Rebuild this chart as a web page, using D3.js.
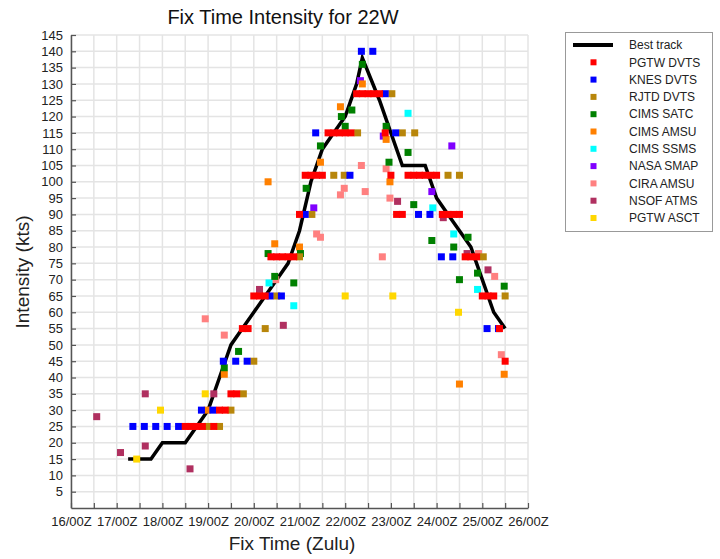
<!DOCTYPE html>
<html><head><meta charset="utf-8">
<script src="https://cdn.jsdelivr.net/npm/d3@7"></script>
<style>
body{margin:0;background:#fff}
svg{display:block}
text{font-family:"Liberation Sans",Arial,Helvetica,sans-serif}
</style>
</head><body>
<svg id="c" width="720" height="559"></svg>
<script>
// ---------- text ----------
const chartTitle = "Fix Time Intensity for 22W";
const xTitle = "Fix Time (Zulu)";
const yTitle = "Intensity (kts)";
const xTickLabels = ["16/00Z","17/00Z","18/00Z","19/00Z","20/00Z","21/00Z","22/00Z","23/00Z","24/00Z","25/00Z","26/00Z"];
const yTickValues = [5,10,15,20,25,30,35,40,45,50,55,60,65,70,75,80,85,90,95,100,105,110,115,120,125,130,135,140,145];

// ---------- data (time = hours after 16/00Z, intensity in kts) ----------
const bestTrackHours = [30,36,42,48,54,60,66,72,78,84,90,96,102,108,114,120,126,132,138,144,150,153,162,168,174,180,186,192,198,204,210,216,222,228];
const bestTrackKts   = [15,15,15,20,20,20,25,30,40,50,55,60,65,70,75,85,100,110,115,120,130,138,125,115,105,105,105,95,90,85,80,70,60,55];

const pgtwDvts = [[60,25],[63,25],[66,25],[69,25],[75,25],[78,30],[81,30],[84,35],[87,35],[90,55],[93,55],[96,65],[99,65],[102,65],
  [105,77],[108,77],[111,77],[114,77],[117,77],[120,90],[123,102],[126,102],[129,102],[132,102],[135,115],[138,115],[141,115],[144,115],[147,115],
  [150,127],[153,127],[156,127],[159,127],[162,127],[165,115],[168,102],[171,90],[174,90],[177,102],[180,102],[183,102],[186,102],[189,102],[192,102],
  [195,90],[198,90],[201,90],[204,90],[207,77],[210,77],[213,77],[216,65],[219,65],[222,65],[225,55],[228,45]];
const knesDvts = [[32.5,25],[38.5,25],[44.5,25],[50.5,25],[56.5,25],[68.5,30],[74.5,30],[80,45],[86.5,45],[92.5,45],[104.5,65],[110.5,65],
  [123,90],[128.5,115],[146.5,102],[152.5,140],[158.5,140],[165,127],[170.5,115],[182.5,90],[188.5,90],[194.5,77],[200.5,77],[218.5,55],[224.5,55]];
const rjtdDvts = [[72,25],[78,25],[84,30],[90.5,35],[96,45],[102,55],[108,65],[120,77],[126.5,90],[138,102],[143.5,102],[150.5,115],
  [168.5,127],[174,115],[180.5,115],[198,102],[204,102],[216.5,77],[228,65]];
const cimsSatc = [[80.5,43],[88,48],[103.5,78],[107,71],[117,69],[120.5,78],[123.5,98],[131,111],[142,120],[144,117],[147.5,122],[153,136],
  [165.5,117],[167,106],[177,109],[180,93],[189.5,82],[201,80],[204,70],[208.5,83],[213.5,72],[227.5,68]];
const cimsAmsu = [[71.5,30],[80.5,41],[103.5,100],[107,81],[120,80],[131,106],[141.5,123],[153,130],[165.5,113],[167.5,100],[204,38],[227.5,41]];
const cimsSsms = [[104,69],[117,62],[177,121],[190,92],[201,84],[213.5,67]];
const nasaSmap = [[127.5,92],[152,131],[164,114],[189.5,97],[200,111]];
const ciraAmsu = [[70.5,58],[80.5,53],[107.5,70],[129,84],[131,83],[141.5,96],[143.5,98],[152.5,105],[154.5,97],[163.5,77],[165.5,104],[167.5,95],
  [214,78],[222.5,71],[226,47]];
const nsofAtms = [[13.5,28],[26,17],[39,35],[39,19],[62.5,12],[75,35],[99,67],[111.5,56],[171.5,94],[195.5,89],[208,78],[219,73]];
const pgtwAsct = [[34.5,15],[47,30],[70.5,35],[144,65],[169,65],[203.5,60]];

const seriesNames  = ["PGTW DVTS","KNES DVTS","RJTD DVTS","CIMS SATC","CIMS AMSU","CIMS SSMS","NASA SMAP","CIRA AMSU","NSOF ATMS","PGTW ASCT"];
const seriesData   = [pgtwDvts, knesDvts, rjtdDvts, cimsSatc, cimsAmsu, cimsSsms, nasaSmap, ciraAmsu, nsofAtms, pgtwAsct];
const seriesColors = ["#ff0000","#0000ff","#b8860b","#008000","#ff8000","#00ffff","#8000ff","#ff8080","#b03060","#ffd700"];

// ---------- layout ----------
const svg = d3.select("#c");
const x = d3.scaleLinear().domain([0,240]).range([71,528]);
const y = d3.scaleLinear().domain([0,145]).range([508,35]);

// grid
const grid = svg.append("g");
grid.selectAll("line.v").data(d3.range(0,241,12)).join("line")
  .attr("x1",d=>x(d)).attr("x2",d=>x(d)).attr("y1",y(0)).attr("y2",y(145))
  .attr("stroke","#e4e4e4").attr("stroke-width",1.5);
grid.selectAll("line.h").data(yTickValues).join("line")
  .attr("x1",x(0)).attr("x2",x(240)).attr("y1",d=>y(d)).attr("y2",d=>y(d))
  .attr("stroke","#e4e4e4").attr("stroke-width",1.5);

// axes
const xAxis = d3.axisBottom(x).tickValues(d3.range(0,241,12)).tickSize(-5).tickSizeOuter(0).tickPadding(9)
  .tickFormat(d => d % 24 === 0 ? xTickLabels[d/24] : "");
const gx = svg.append("g").attr("transform",`translate(0,${y(0)})`).call(xAxis);
const yAxis = d3.axisLeft(y).tickValues(yTickValues).tickSize(-5).tickSizeOuter(0).tickPadding(8);
const gy = svg.append("g").attr("transform",`translate(${x(0)},0)`).call(yAxis);
[gx,gy].forEach(g=>{
  g.select(".domain").attr("stroke","#555").attr("stroke-width",1.5);
  g.selectAll(".tick line").attr("stroke","#555").attr("stroke-width",1.2);
  g.selectAll(".tick text").attr("font-size",13).attr("fill","#222")
    .attr("font-family","'Liberation Sans',Arial,Helvetica,sans-serif");
});

// best track
const line = d3.line().x(d=>x(d[0])).y(d=>y(d[1]));
svg.append("path").datum(bestTrackHours.map((h,i)=>[h,bestTrackKts[i]]))
  .attr("d",line).attr("fill","none").attr("stroke","#000").attr("stroke-width",3.5)
  .attr("stroke-linejoin","miter");

// fixes (drawn in reverse legend order so PGTW DVTS sits on top)
const S = 7;
for (let i = seriesData.length-1; i >= 0; i--) {
  svg.append("g").selectAll("rect").data(seriesData[i]).join("rect")
    .attr("x",d=>x(d[0])-S/2).attr("y",d=>y(d[1])-S/2).attr("width",S).attr("height",S)
    .attr("fill",seriesColors[i]);
}

// titles
svg.append("text").attr("x",283).attr("y",24).attr("text-anchor","middle")
  .attr("font-size",20).attr("fill","#111").text(chartTitle);
svg.append("text").attr("x",292).attr("y",550).attr("text-anchor","middle")
  .attr("font-size",19).attr("fill","#222").text(xTitle);
svg.append("text").attr("transform","translate(29,272) rotate(-90)").attr("text-anchor","middle")
  .attr("font-size",19).attr("fill","#222").text(yTitle);

// legend
const lg = svg.append("g");
lg.append("rect").attr("x",565.5).attr("y",32.5).attr("width",147).attr("height",199)
  .attr("fill","#fff").attr("stroke","#999").attr("stroke-width",1);
const rowY = i => 45 + i*17.3;
lg.append("line").attr("x1",573).attr("x2",613).attr("y1",rowY(0)).attr("y2",rowY(0))
  .attr("stroke","#000").attr("stroke-width",4);
lg.append("text").attr("x",629).attr("y",rowY(0)).attr("dy","0.35em").attr("font-size",12).attr("fill","#222").text("Best track");
seriesNames.forEach((n,i)=>{
  lg.append("rect").attr("x",593.5-3).attr("y",rowY(i+1)-3).attr("width",6).attr("height",6).attr("fill",seriesColors[i]);
  lg.append("text").attr("x",629).attr("y",rowY(i+1)).attr("dy","0.35em").attr("font-size",12).attr("fill","#222").text(n);
});
</script>
</body></html>
